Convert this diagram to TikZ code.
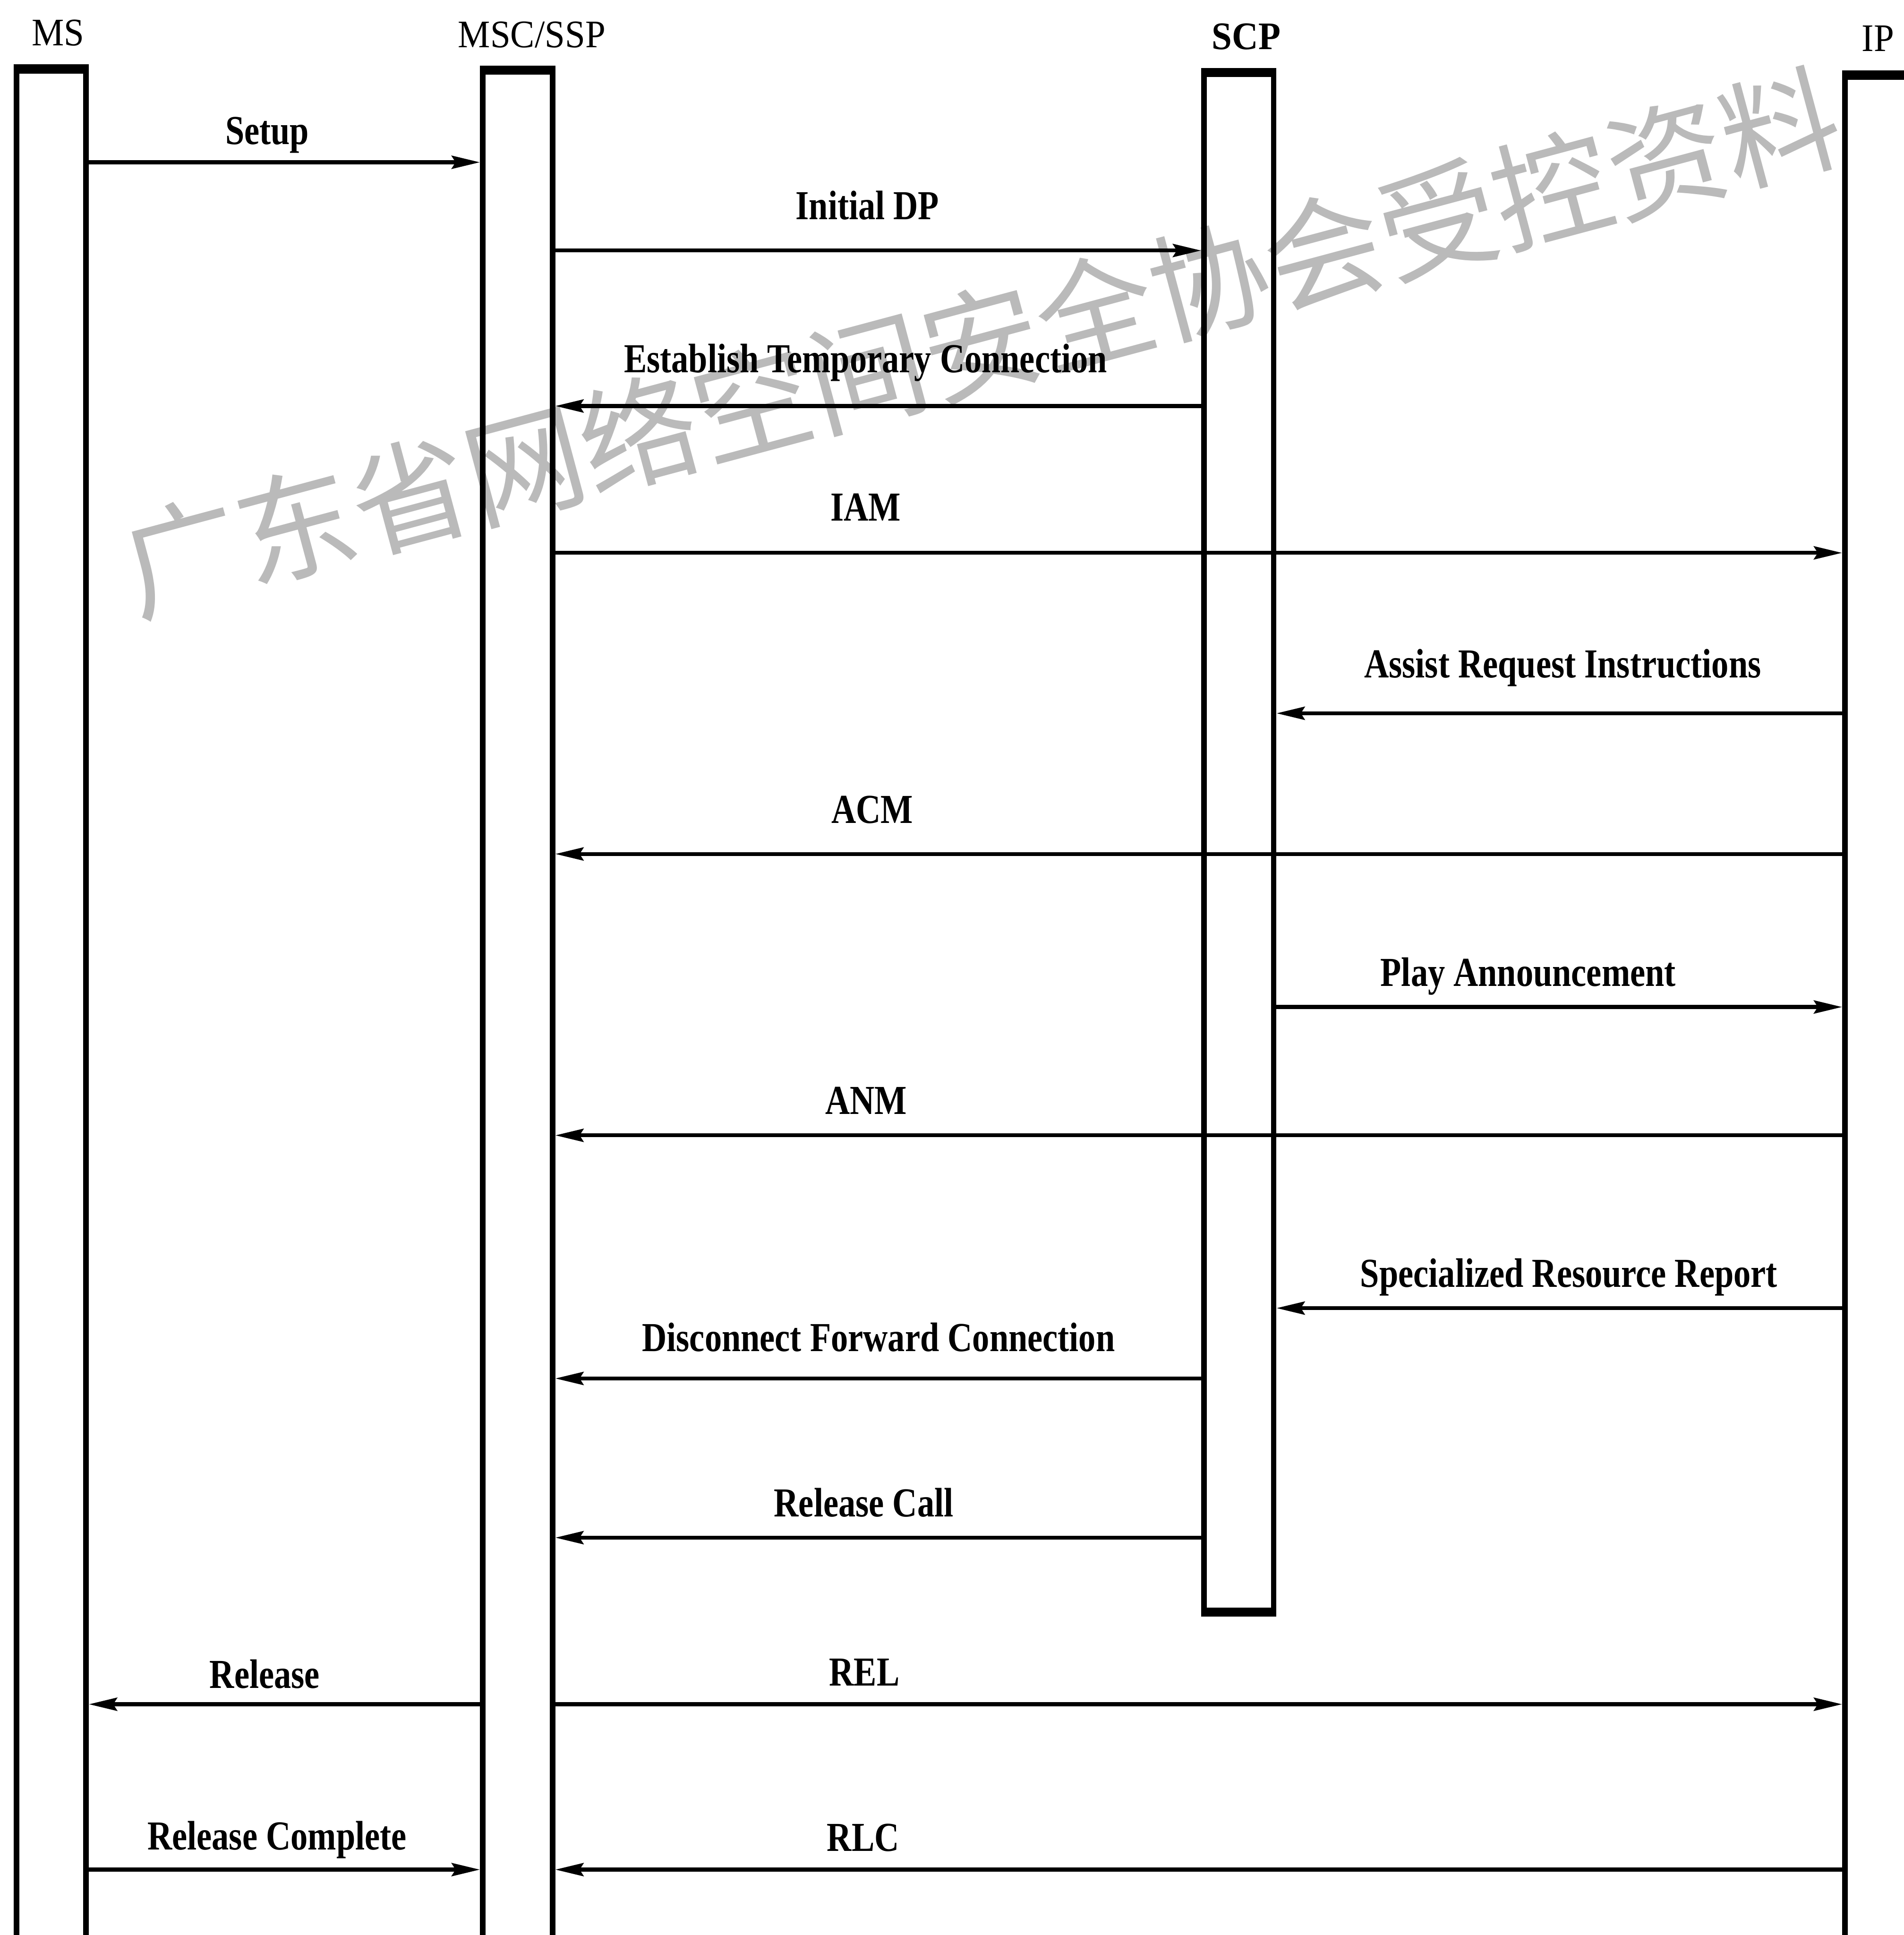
\documentclass[tikz,border=0pt]{standalone}
\usepackage{fontspec}
\setmainfont{Liberation Serif}[FakeStretch=0.83]
\newfontfamily\hdrfont{Liberation Serif}[FakeStretch=0.93]
\newfontfamily\cjk{Noto Sans CJK SC}
\usetikzlibrary{arrows.meta,positioning}
\definecolor{wmgray}{RGB}{186,186,186}
\begin{document}
\begin{tikzpicture}[x=0.02cm,y=-0.02cm,
  lifebox/.style={draw, line width=2.6pt, minimum width=1.13cm, inner sep=0pt, anchor=north},
  topbar/.style={line width=3.2pt},
  msg/.style={line width=1.8pt, -{Stealth[length=13pt,width=6pt,inset=1.8pt]}},
  lbl/.style={anchor=base, inner sep=0pt, font=\fontsize{19}{23}\selectfont\bfseries},
  hdr/.style={anchor=base, inner sep=0pt, font=\hdrfont\fontsize{18}{22}\selectfont}]
\useasboundingbox (0,0) rectangle (1543,1568);
% watermark (behind everything)
\node[rotate=15, text=wmgray, inner sep=0pt, font=\cjk\fontsize{54.5}{55}\selectfont] (wm) at (795,277) {广东省网络空间安全协会受控资料};
% lifelines
\node[lifebox, minimum height=31.4cm] (ms)  at (41.5,55) {};
\node[lifebox, minimum height=31.4cm] (msc) at (419.5,56) {};
\node[lifebox, minimum height=24.9cm] (scp) at (1004,58) {};
\node[lifebox, minimum height=31.4cm] (ip)  at (1523.5,60) {};
% heavier top edges, and the bottom of the SCP box
\draw[topbar] (ms.north west) -- (ms.north east);
\draw[topbar] (msc.north west) -- (msc.north east);
\draw[topbar] (scp.north west) -- (scp.north east);
\draw[topbar] (ip.north west) -- (ip.north east);
\draw[topbar] (scp.south west) -- (scp.south east);
% headers
\node[hdr] (hms)  at (47,37) {MS};
\node[hdr] (hmsc) at (431,38.5) {MSC/SSP};
\node[hdr, font=\hdrfont\fontsize{18}{22}\selectfont\bfseries] (hscp) at (1010,40) {SCP};
\node[hdr] (hip)  at (1522,41.5) {IP};
% message rows
\coordinate (ysetup) at (0,131.5);
\coordinate (yidp)   at (0,203);
\coordinate (yetc)   at (0,329);
\coordinate (yiam)   at (0,448);
\coordinate (yari)   at (0,578);
\coordinate (yacm)   at (0,692);
\coordinate (ypa)    at (0,816);
\coordinate (yanm)   at (0,920);
\coordinate (ysrr)   at (0,1060);
\coordinate (ydfc)   at (0,1117);
\coordinate (yrc)    at (0,1246);
\coordinate (yrel)   at (0,1381);
\coordinate (yrlc)   at (0,1515);
% messages
\draw[msg] (ms.east |- ysetup) -- (msc.west |- ysetup);
\node[lbl] (tsetup) at (216.5,117) {Setup};
\draw[msg] (msc.east |- yidp) -- (scp.west |- yidp);
\node[lbl] (tidp) at (703,178) {Initial DP};
\draw[msg] (scp.west |- yetc) -- (msc.east |- yetc);
\node[lbl] (tetc) at (701.5,302) {Establish Temporary Connection};
\draw[msg] (msc.east |- yiam) -- (ip.west |- yiam);
\node[lbl] (tiam) at (701.5,422) {IAM};
\draw[msg] (ip.west |- yari) -- (scp.east |- yari);
\node[lbl] (tari) at (1266.5,549) {Assist Request Instructions};
\draw[msg] (ip.west |- yacm) -- (msc.east |- yacm);
\node[lbl] (tacm) at (707,667) {ACM};
\draw[msg] (scp.east |- ypa) -- (ip.west |- ypa);
\node[lbl] (tpa) at (1238.5,799) {Play Announcement};
\draw[msg] (ip.west |- yanm) -- (msc.east |- yanm);
\node[lbl] (tanm) at (702,903) {ANM};
\draw[msg] (ip.west |- ysrr) -- (scp.east |- ysrr);
\node[lbl] (tsrr) at (1271.5,1043) {Specialized Resource Report};
\draw[msg] (scp.west |- ydfc) -- (msc.east |- ydfc);
\node[lbl] (tdfc) at (712,1095) {Disconnect Forward Connection};
\draw[msg] (scp.west |- yrc) -- (msc.east |- yrc);
\node[lbl] (trc) at (700,1229) {Release Call};
\draw[msg] (msc.west |- yrel) -- (ms.east |- yrel);
\node[lbl] (trelease) at (214.5,1368) {Release};
\draw[msg] (msc.east |- yrel) -- (ip.west |- yrel);
\node[lbl] (trel) at (700.5,1366) {REL};
\draw[msg] (ms.east |- yrlc) -- (msc.west |- yrlc);
\node[lbl] (trcomp) at (224.5,1499) {Release Complete};
\draw[msg] (ip.west |- yrlc) -- (msc.east |- yrlc);
\node[lbl] (trlc) at (699.5,1500) {RLC};
\end{tikzpicture}
\end{document}
